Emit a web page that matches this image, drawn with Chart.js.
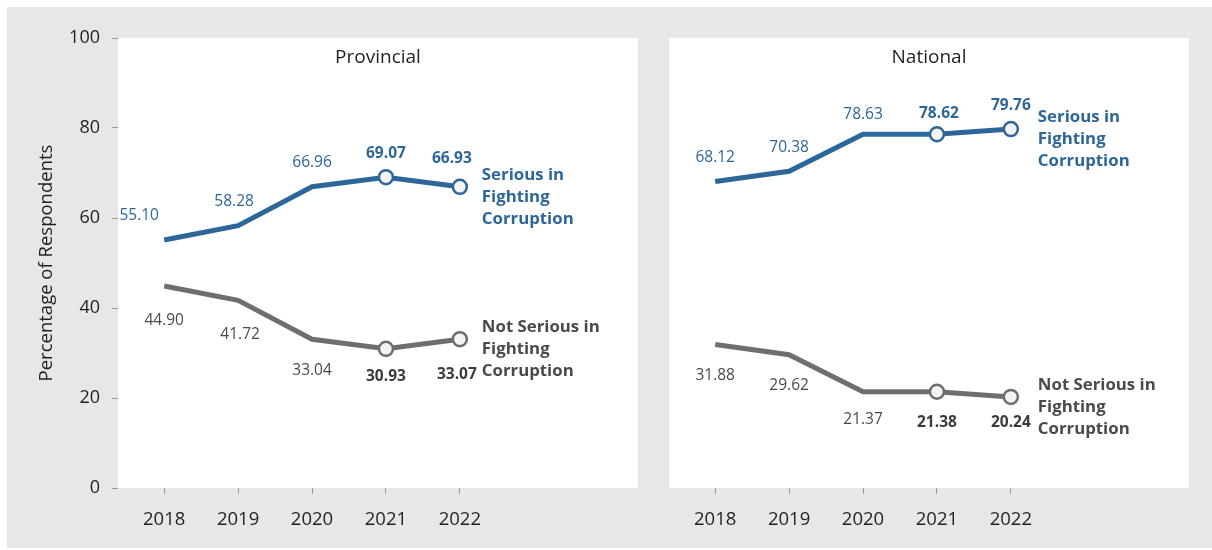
<!DOCTYPE html>
<html>
<head>
<meta charset="utf-8">
<script src="https://cdn.jsdelivr.net/npm/chart.js@4.4.1/dist/chart.umd.min.js"></script>
<style>
  html, body { margin: 0; padding: 0; background: #ffffff; overflow: hidden; }
  #bg { position: absolute; left: 7px; top: 7px; width: 1205px; height: 541px; background: #e6e7e8; }
  #wrapL { position: absolute; left: 0; top: 0; width: 640px; height: 550px; }
  #wrapR { position: absolute; left: 640px; top: 0; width: 572px; height: 550px; }
</style>
</head>
<body>
<div id="bg"></div>
<div id="wrapL"><canvas id="cL"></canvas></div>
<div id="wrapR"><canvas id="cR"></canvas></div>
<script>
const years = [2018, 2019, 2020, 2021, 2022];
const yTicks = [0, 20, 40, 60, 80, 100];
const panelTitles = ['Provincial', 'National'];
const seriesNames = [['Serious in', 'Fighting', 'Corruption'], ['Not Serious in', 'Fighting', 'Corruption']];
const provincialSerious = [55.10, 58.28, 66.96, 69.07, 66.93];
const provincialNotSerious = [44.90, 41.72, 33.04, 30.93, 33.07];
const nationalSerious = [68.12, 70.38, 78.63, 78.62, 79.76];
const nationalNotSerious = [31.88, 29.62, 21.37, 21.38, 20.24];
const highlighted = [false, false, false, true, true];

const BLUE = '#2d6699';
const GREY = '#6d6e71';
const FONT = "'Open Sans', 'Noto Sans', sans-serif";

const panelPlugin = {
  id: 'panel',
  beforeDraw(chart) {
    const {ctx, chartArea: a} = chart;
    ctx.save();
    ctx.fillStyle = '#ffffff';
    ctx.fillRect(a.left, a.top, a.right - a.left, a.bottom - a.top);
    ctx.restore();
  },
  afterDatasetsDraw(chart, args, opts) {
    const {ctx, chartArea: a} = chart;
    ctx.save();
    ctx.fillStyle = '#231f20';
    ctx.font = "19px " + FONT;
    ctx.textAlign = 'center';
    ctx.textBaseline = 'middle';
    ctx.fillText(opts.title, (a.left + a.right) / 2, a.top + 20);
    chart.data.datasets.forEach((ds, di) => {
      const meta = chart.getDatasetMeta(di);
      const above = di === 0;
      meta.data.forEach((pt, i) => {
        const bold = highlighted[i];
        ctx.font = (bold ? 'bold ' : '') + '15.5px ' + FONT;
        ctx.fillStyle = above ? BLUE : (bold ? '#3b3b3d' : '#4a4a4c');
        ctx.textAlign = 'center';
        ctx.textBaseline = 'middle';
        const n = (opts.nudges || {})[di + '_' + i] || [0, 0];
        const dy = above ? -24 : 31;
        ctx.fillText(ds.data[i].y.toFixed(2), pt.x + n[0], pt.y + dy + n[1]);
      });
      const last = meta.data[meta.data.length - 1];
      ctx.font = 'bold 16.8px ' + FONT;
      ctx.fillStyle = above ? BLUE : '#4a4a4c';
      ctx.textAlign = 'left';
      ctx.textBaseline = 'middle';
      seriesNames[di].forEach((t, k) => {
        ctx.fillText(t, last.x + opts.endDx, last.y - 12 + k * 22);
      });
    });
    ctx.restore();
  }
};

function mk(values) {
  return years.map((x, i) => ({x: x, y: values[i]}));
}

function makeChart(id, title, serious, notSerious, isLeft) {
  const ptRadius = highlighted.map(h => h ? 7 : 0);
  const common = {
    borderWidth: 5,
    pointRadius: ptRadius,
    pointHoverRadius: ptRadius,
    pointBackgroundColor: '#f4f4f6',
    pointBorderWidth: 2.5,
    tension: 0,
    borderJoinStyle: 'miter'
  };
  return new Chart(document.getElementById(id), {
    type: 'line',
    data: {
      datasets: [
        Object.assign({label: 'Serious', data: mk(serious), borderColor: BLUE, pointBorderColor: BLUE}, common),
        Object.assign({label: 'Not Serious', data: mk(notSerious), borderColor: GREY, pointBorderColor: GREY}, common)
      ]
    },
    options: {
      responsive: true,
      maintainAspectRatio: false,
      animation: false,
      events: [],
      layout: {
        autoPadding: false,
        padding: isLeft ? {left: 0, right: 2, top: 38, bottom: 0} : {left: 29, right: 23, top: 38, bottom: 0}
      },
      plugins: {
        legend: { display: false },
        tooltip: { enabled: false },
        panel: {
          title: title,
          endDx: isLeft ? 22 : 27,
          nudges: isLeft
            ? {'0_0': [-25, 0], '0_1': [-4, 0], '0_4': [-8, -4], '1_0': [0, 4], '1_1': [2, 3], '1_3': [0, -3], '1_4': [-3, 4]}
            : {'0_2': [0, 4], '0_3': [2, 3], '1_2': [0, -3], '1_4': [0, -5]}
        }
      },
      scales: {
        x: {
          type: 'linear',
          min: 2017.375,
          max: 2024.41,
          afterBuildTicks: (s) => { s.ticks = years.map(v => ({value: v})); },
          afterFit: (s) => { s.height = 62; s.paddingLeft = 0; s.paddingRight = 0; },
          ticks: {
            callback: (v) => String(v),
            font: { family: FONT, size: 18.5 },
            color: '#231f20',
            padding: 15,
            maxRotation: 0,
            autoSkip: false
          },
          grid: { drawOnChartArea: false, drawTicks: true, tickLength: 6, tickColor: '#9a9a9c', tickWidth: 1 },
          border: { display: false }
        },
        y: {
          display: isLeft,
          min: 0,
          max: 100,
          afterBuildTicks: (s) => { s.ticks = yTicks.map(v => ({value: v})); },
          afterFit: (s) => { if (isLeft) { s.width = 118; } else { s.width = 0; } },
          ticks: {
            font: { family: FONT, size: 18 },
            color: '#231f20',
            padding: 12
          },
          grid: { drawOnChartArea: false, drawTicks: true, tickLength: 6, tickColor: '#9a9a9c', tickWidth: 1 },
          border: { display: false },
          title: {
            display: true,
            text: 'Percentage of Respondents',
            font: { family: FONT, size: 18.5 },
            color: '#231f20',
            padding: { top: 36, bottom: 0 }
          }
        }
      }
    },
    plugins: [panelPlugin]
  });
}

makeChart('cL', panelTitles[0], provincialSerious, provincialNotSerious, true);
makeChart('cR', panelTitles[1], nationalSerious, nationalNotSerious, false);
</script>
</body>
</html>
